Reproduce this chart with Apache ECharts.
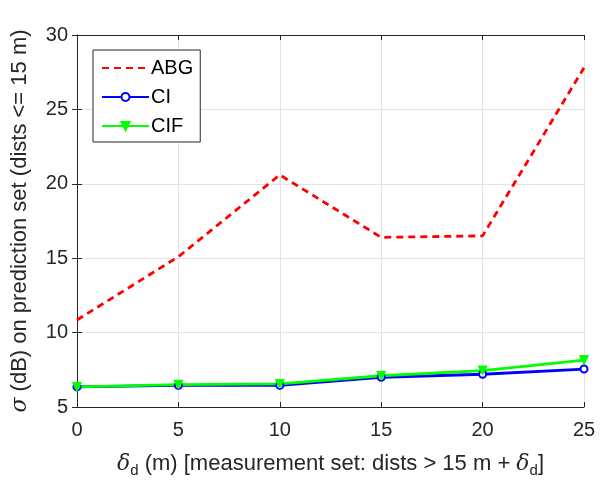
<!DOCTYPE html>
<html><head><meta charset="utf-8">
<script src="https://cdn.jsdelivr.net/npm/echarts@6/dist/echarts.min.js"></script>
<style>html,body{margin:0;padding:0;background:#fff}#c{width:607px;height:483px}</style>
</head><body><div id="c"></div>
<script>
const xValues = [0, 5, 10, 15, 20, 25];
const abg = [10.85, 15.1, 20.6, 16.4, 16.5, 27.8];
const ci  = [6.35, 6.45, 6.45, 7.0, 7.2, 7.55];
const cif = [6.35, 6.5, 6.55, 7.1, 7.45, 8.15];
const seriesNames = ['ABG', 'CI', 'CIF'];

const pairs = a => a.map((v, i) => [xValues[i], v]);
const font = 'Liberation Sans, Arial, Helvetica, sans-serif';
const axisCol = '#262626';
const fs = 20;
const tfs = 22;
const chart = echarts.init(document.getElementById('c'));
chart.setOption({
  animation: false,
  backgroundColor: '#fff',
  grid: { left: 77, right: 23, top: 35, bottom: 74, containLabel: false },
  legend: {
    orient: 'vertical', left: 93, top: 50,
    data: [{ name: seriesNames[0], itemStyle: { opacity: 0 } }, { name: seriesNames[1] }, { name: seriesNames[2] }],
    backgroundColor: '#fff', borderColor: axisCol, borderWidth: 1,
    padding: [8, 7, 6, 8], itemGap: 9, itemWidth: 47, itemHeight: 10,
    textStyle: { fontFamily: font, fontSize: fs, color: '#000', padding: [0, 0, 0, -3] }
  },
  xAxis: [{
    type: 'value', min: 0, max: 25, interval: 5,
    name: '{i|δ}{s|d} (m) [measurement set: dists > 15 m + {i|δ}{s|d}]',
    nameLocation: 'middle', nameGap: 43,
    nameTextStyle: { fontFamily: font, fontSize: tfs, color: axisCol,
      rich: { i: { fontFamily: 'DejaVu Serif, serif', fontStyle: 'italic', fontSize: tfs, color: axisCol },
              s: { fontFamily: font, fontSize: 15, color: axisCol, verticalAlign: 'bottom', padding: [13, 0, 0, 0] } } },
    axisLine: { show: true, lineStyle: { color: axisCol, width: 1 } },
    axisTick: { show: true, inside: true, length: 5, lineStyle: { color: axisCol } },
    axisLabel: { fontFamily: font, fontSize: fs, color: axisCol, margin: 13 },
    splitLine: { show: true, lineStyle: { color: '#e3e3e3', width: 1 } }
  }, {
    type: 'value', min: 0, max: 25, interval: 5, position: 'top',
    axisLine: { show: true, lineStyle: { color: axisCol, width: 1 } },
    axisTick: { show: true, inside: true, length: 5, lineStyle: { color: axisCol } },
    axisLabel: { show: false }, splitLine: { show: false }
  }],
  yAxis: [{
    type: 'value', min: 5, max: 30, interval: 5,
    name: '{i|σ} (dB) on prediction set (dists <= 15 m)',
    nameLocation: 'middle', nameGap: 46, nameRotate: 90,
    nameTextStyle: { fontFamily: font, fontSize: tfs, color: axisCol,
      rich: { i: { fontFamily: 'DejaVu Serif, serif', fontStyle: 'italic', fontSize: tfs, color: axisCol } } },
    axisLine: { show: true, lineStyle: { color: axisCol, width: 1 } },
    axisTick: { show: true, inside: true, length: 5, lineStyle: { color: axisCol } },
    axisLabel: { fontFamily: font, fontSize: fs, color: axisCol, margin: 9 },
    splitLine: { show: true, lineStyle: { color: '#e3e3e3', width: 1 } }
  }, {
    type: 'value', min: 5, max: 30, interval: 5, position: 'right',
    axisLine: { show: true, lineStyle: { color: axisCol, width: 1 } },
    axisTick: { show: true, inside: true, length: 5, lineStyle: { color: axisCol } },
    axisLabel: { show: false }, splitLine: { show: false }
  }],
  series: [{
    name: seriesNames[0], type: 'line', data: pairs(abg), symbol: 'none',
    lineStyle: { color: '#ff0000', width: 2.8, type: [7, 5] }, itemStyle: { color: '#ff0000' }
  }, {
    name: seriesNames[1], type: 'line', data: pairs(ci), symbol: 'circle', symbolSize: 7,
    lineStyle: { color: '#0000ff', width: 2.8 },
    itemStyle: { color: '#fff', borderColor: '#0000ff', borderWidth: 2 }
  }, {
    name: seriesNames[2], type: 'line', data: pairs(cif), symbol: 'triangle', symbolRotate: 180, symbolSize: 9,
    lineStyle: { color: '#00ff00', width: 2.8 },
    itemStyle: { color: '#00ff00', borderColor: '#00ff00', borderWidth: 1 }
  }]
});
</script></body></html>
